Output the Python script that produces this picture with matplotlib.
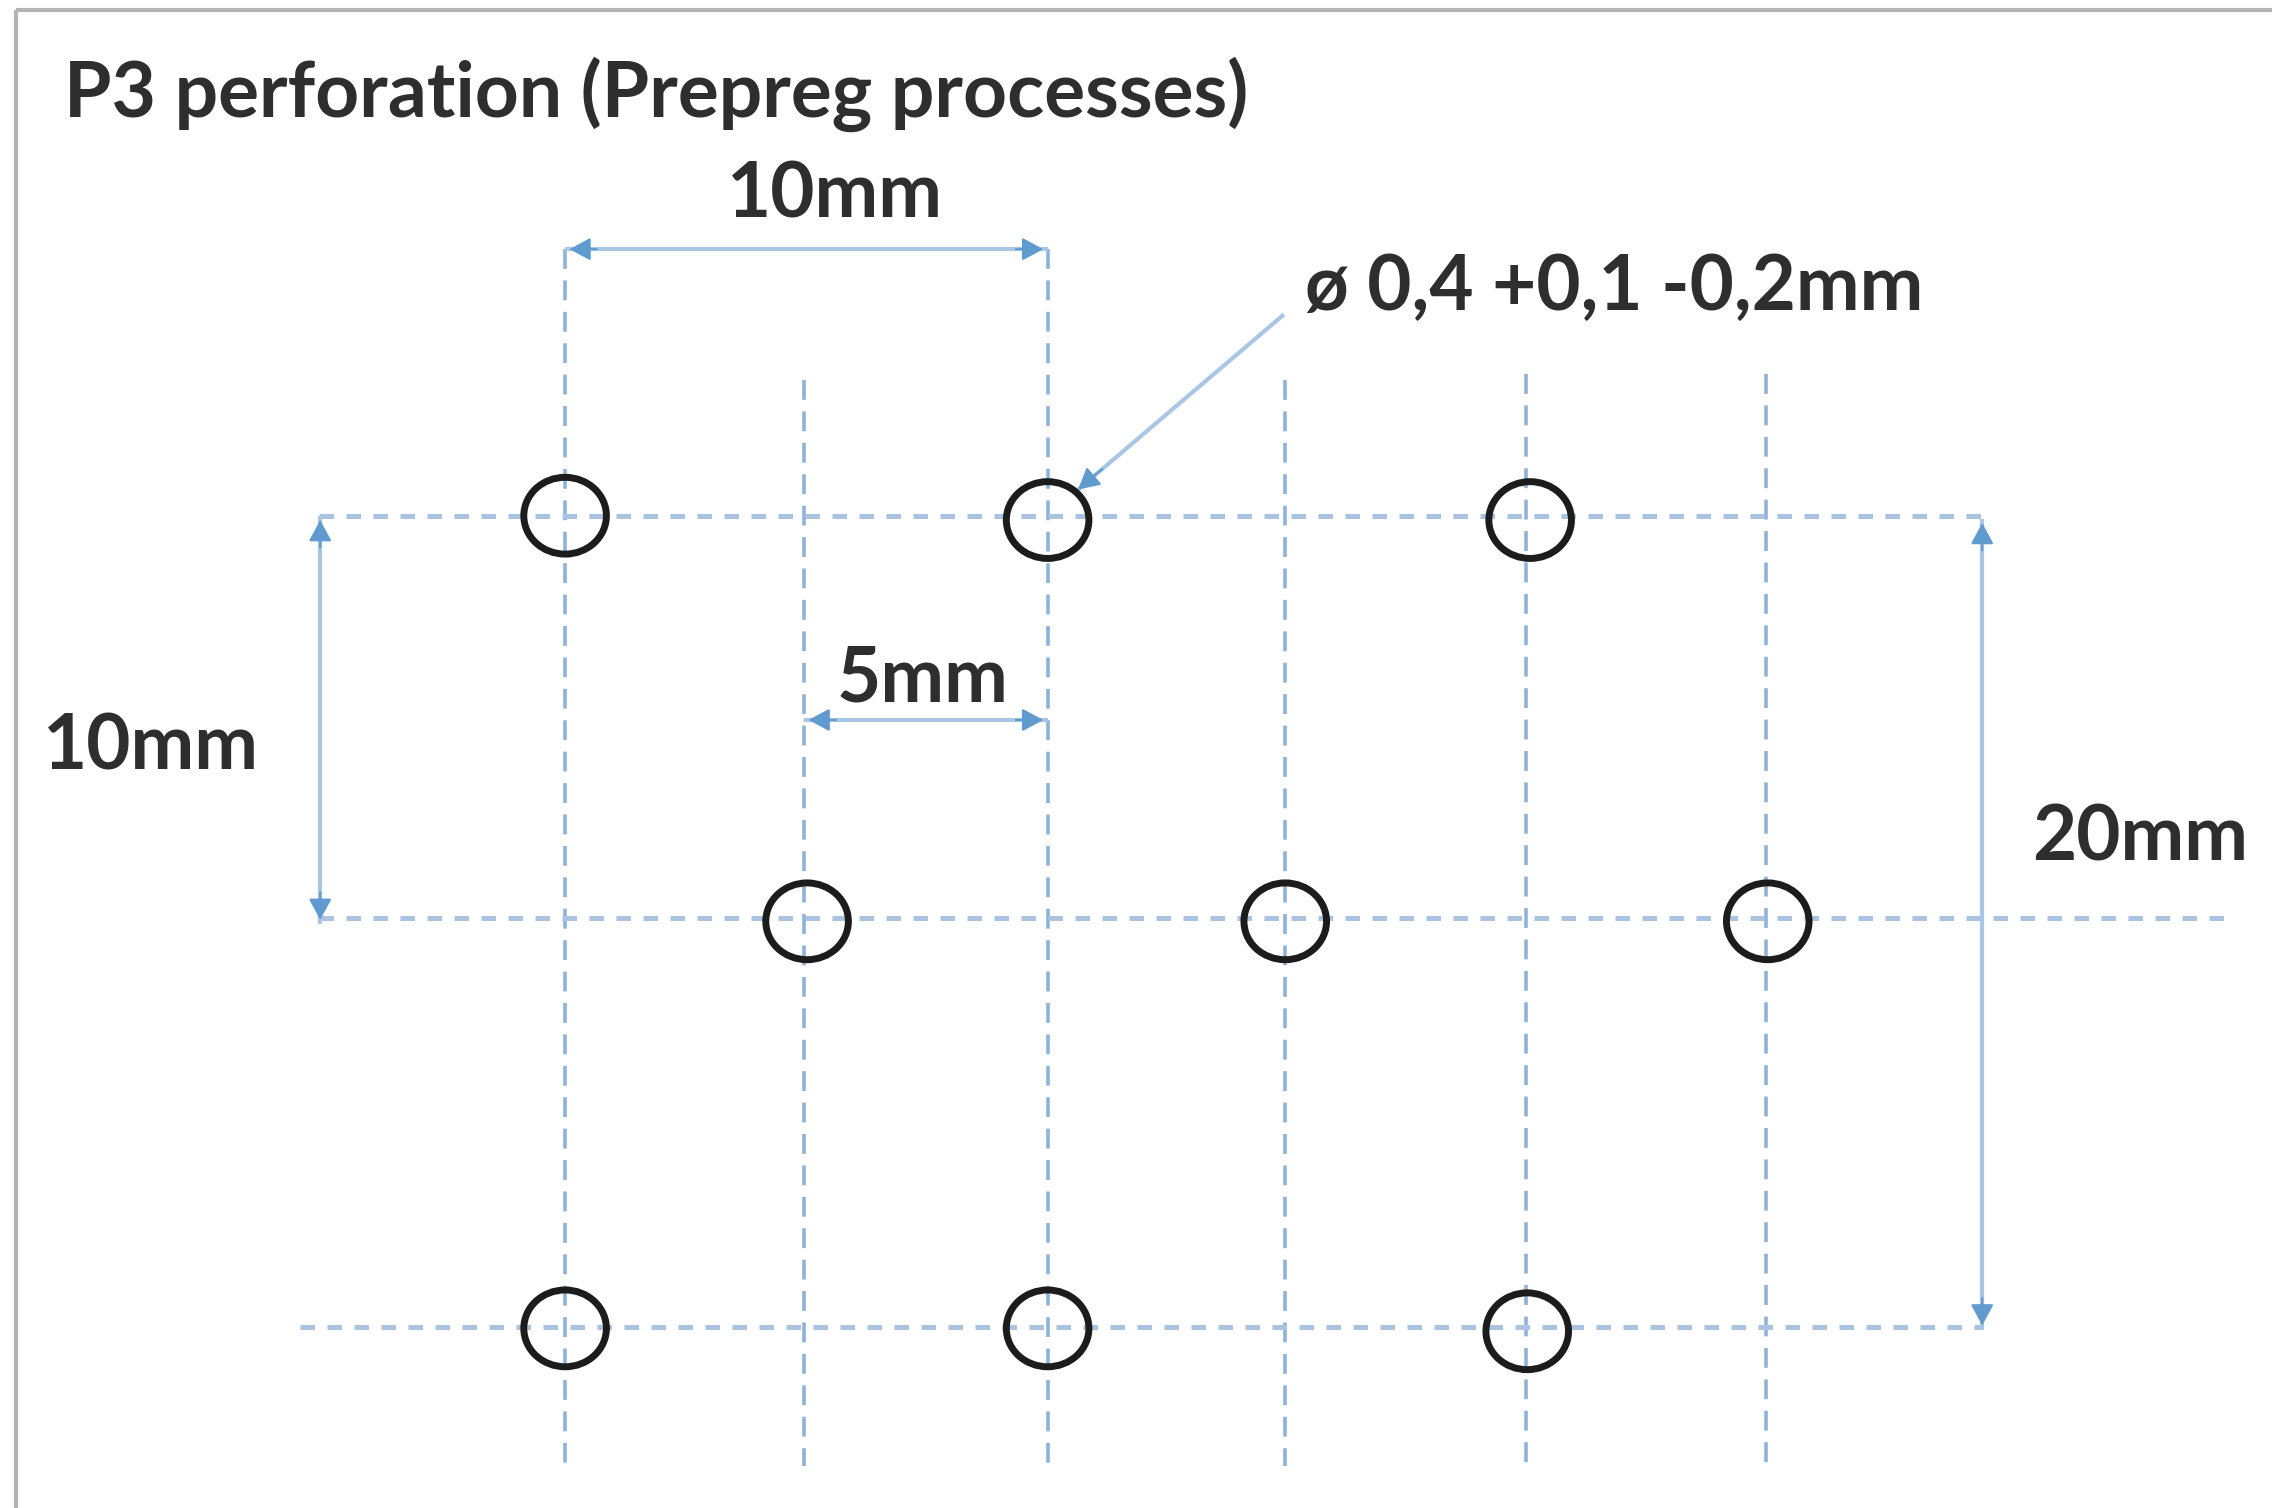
import matplotlib
matplotlib.use("Agg")
import matplotlib.pyplot as plt
from matplotlib.patches import Ellipse, Rectangle

plt.rcParams['font.family'] = ['Lato', 'DejaVu Sans']

VBLUE = '#8fb3d8'
HBLUE = '#a9c3e0'
SHAFT = '#a9c6e4'
HEAD = '#5f9bcf'
TEXT = '#2e2e2e'

title = "P3 perforation (Prepreg processes)"
hole_x = [390, 723, 1056, 557, 887, 1220, 390, 723, 1054]
hole_y = [356, 359, 359, 636, 636, 636, 917, 917, 919]
vline_x = [390, 555, 723, 887, 1053, 1219]
vline_top = [172, 262, 172, 262, 258, 258]
vline_bottom = [1012, 1012, 1012, 1012, 1012, 1012]
hline_y = [356, 634, 916]
hline_left = [220, 220, 207]
hline_right = [1368, 1540, 1368]
dim_labels = ["10mm", "5mm", "10mm", "20mm", "ø 0,4 +0,1 -0,2mm"]
dim_label_x = [576, 637, 104, 1477, 1114]
dim_label_y = [135, 469, 516, 579, 199]
dim_arrow_x0 = [390, 555, 221, 1368]
dim_arrow_y0 = [172, 497, 356, 358]
dim_arrow_x1 = [723, 723, 221, 1368]
dim_arrow_y1 = [172, 497, 638, 918]
leader_x = [885, 744]
leader_y = [218, 338]

fig = plt.figure(figsize=(22.72, 15.08), dpi=100, facecolor='white')
ax = fig.add_axes([0, 0, 1, 1])
ax.set_xlim(0, 1568)
ax.set_ylim(1041, 0)
ax.axis('off')

ax.add_patch(Rectangle((11, 7), 1600, 1100, fill=False, ec='#b4b4b4', lw=3))

for x, t, b in zip(vline_x, vline_top, vline_bottom):
    ax.plot([x, x], [t, b], color=VBLUE, lw=2.6, ls=(0, (5.5, 3.2)), zorder=1)
for y, l, r in zip(hline_y, hline_left, hline_right):
    ax.plot([l, r], [y, y], color=HBLUE, lw=3.6, ls=(0, (2.9, 2.5)), zorder=1)


def head(x_from, y_from, x_to, y_to):
    """Draw one filled arrow head pointing from (x_from, y_from) at (x_to, y_to)."""
    ax.annotate('', xy=(x_to, y_to), xytext=(x_from, y_from), zorder=2,
                arrowprops=dict(arrowstyle='-|>,head_length=1.3,head_width=0.7', color=HEAD,
                                lw=1.5, shrinkA=0, shrinkB=0))


def direction(x0, y0, x1, y1):
    length = ((x1 - x0) ** 2 + (y1 - y0) ** 2) ** 0.5
    return (x1 - x0) / length, (y1 - y0) / length


for x0, y0, x1, y1 in zip(dim_arrow_x0, dim_arrow_y0, dim_arrow_x1, dim_arrow_y1):
    ax.plot([x0, x1], [y0, y1], color=SHAFT, lw=3, zorder=2, solid_capstyle='butt')
    dx, dy = direction(x0, y0, x1, y1)
    head(x0 + dx * 22, y0 + dy * 22, x0 + dx * 3, y0 + dy * 3)
    head(x1 - dx * 22, y1 - dy * 22, x1 - dx * 3, y1 - dy * 3)

ax.plot(leader_x, leader_y, color=SHAFT, lw=3, zorder=2)
dx, dy = direction(leader_x[0], leader_y[0], leader_x[1], leader_y[1])
head(leader_x[1] - dx * 22, leader_y[1] - dy * 22, leader_x[1], leader_y[1])

for x, y in zip(hole_x, hole_y):
    ax.add_patch(Ellipse((x, y), 57, 53, fill=False, ec='#1c1c1c', lw=5, zorder=3))

ax.text(44, 65, title, fontsize=55.3, color=TEXT, fontweight='bold', va='center', ha='left')
for s, x, y in zip(dim_labels, dim_label_x, dim_label_y):
    ax.text(x, y, s, fontsize=55, color=TEXT, fontweight='bold', va='center', ha='center')

fig.savefig('out.png', dpi=100)
